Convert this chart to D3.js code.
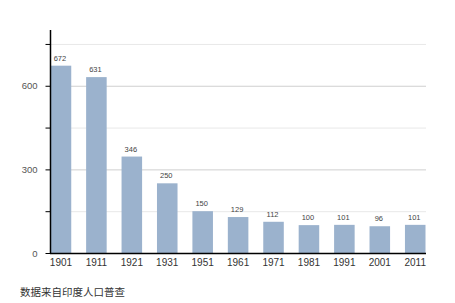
<!DOCTYPE html>
<html>
<head>
<meta charset="utf-8">
<script src="https://cdn.jsdelivr.net/npm/d3@7"></script>
<style>
  body { margin: 0; background: #fff; }
  svg { display: block; font-family: "Liberation Sans", Arial, sans-serif; }
</style>
</head>
<body>
<svg id="chart" width="455" height="303"></svg>
<script>
const years = ['1901', '1911', '1921', '1931', '1951', '1961', '1971', '1981', '1991', '2001', '2011'];
const values = [672, 631, 346, 250, 150, 129, 112, 100, 101, 96, 101];
const yTicks = [0, 300, 600];
const gridTicks = [150, 300, 450, 600, 750];
const source = '数据来自印度人口普查';

const svg = d3.select('#chart');

const x = d3.scaleBand().domain(years).range([50.7, 425.5]).paddingInner(0.42).paddingOuter(0);
const y = d3.scaleLinear().domain([0, 800]).range([253, 30]);

// grid
svg.append('g')
  .selectAll('line')
  .data(gridTicks)
  .join('line')
  .attr('x1', 50)
  .attr('x2', 426)
  .attr('y1', d => y(d) + 0.5)
  .attr('y2', d => y(d) + 0.5)
  .attr('stroke', d => (d % 300 === 0 ? '#cfcfcf' : '#e8e8e8'))
  .attr('stroke-width', 1);

// bars
svg.append('g')
  .selectAll('rect')
  .data(values)
  .join('rect')
  .attr('x', (d, i) => x(years[i]))
  .attr('y', d => y(d))
  .attr('width', x.bandwidth())
  .attr('height', d => y(0) - y(d))
  .attr('fill', '#9bb2cd');

// value labels
svg.append('g')
  .selectAll('text')
  .data(values)
  .join('text')
  .attr('x', (d, i) => x(years[i]) + x.bandwidth() / 2 - 1)
  .attr('y', d => y(d) - 5)
  .attr('text-anchor', 'middle')
  .attr('font-size', 7.5)
  .attr('fill', '#444')
  .text(d => d);

// y axis
const yAxis = svg.append('g')
  .attr('transform', 'translate(50.5,0)')
  .call(d3.axisLeft(y).tickValues(gridTicks.concat([0])).tickSize(5).tickFormat(d => (yTicks.includes(d) ? d : '')));
yAxis.select('.domain').remove();
yAxis.selectAll('.tick line').attr('stroke', '#000');
yAxis.selectAll('.tick text').attr('font-size', 9.5).attr('fill', '#555').attr('x', -13);
svg.append('line')
  .attr('x1', 50.5).attr('x2', 50.5)
  .attr('y1', 30).attr('y2', 254)
  .attr('stroke', '#000').attr('stroke-width', 1.5);

// x axis
const xAxis = svg.append('g')
  .attr('transform', 'translate(0,253.5)')
  .call(d3.axisBottom(x).tickSize(0).tickPadding(5));
xAxis.select('.domain').remove();
xAxis.selectAll('.tick text').attr('font-size', 10).attr('fill', '#333');
svg.append('line')
  .attr('x1', 50).attr('x2', 426)
  .attr('y1', 253.5).attr('y2', 253.5)
  .attr('stroke', '#000').attr('stroke-width', 1.5);

// source
svg.append('text')
  .attr('x', 20)
  .attr('y', 296)
  .attr('font-family', '"Noto Sans CJK SC", sans-serif')
  .attr('font-size', 10.5)
  .attr('fill', '#333')
  .text(source);
</script>
</body>
</html>
